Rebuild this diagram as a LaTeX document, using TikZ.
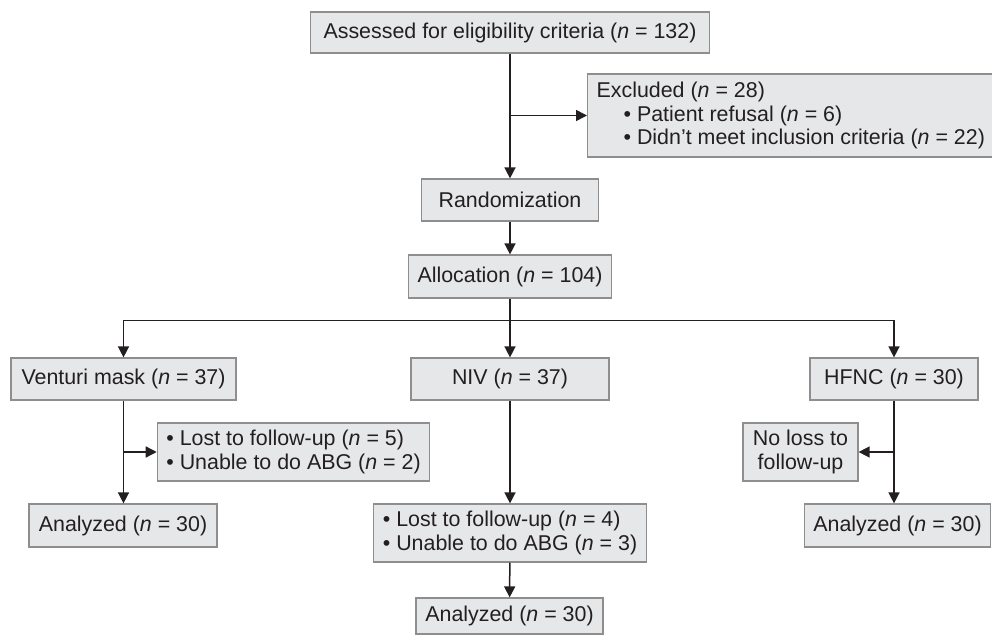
\documentclass[tikz,border=0pt]{standalone}
\usepackage{fontspec}
\setmainfont{Liberation Sans}
\usetikzlibrary{arrows.meta, positioning, calc}

\definecolor{boxfill}{HTML}{E6E7E8}
\definecolor{boxline}{HTML}{8E8E8E}
\definecolor{ink}{HTML}{231F20}
\newcommand{\nn}{\textit{n}}

\begin{document}
\begin{tikzpicture}[
        x=1pt, y=1pt,
        % styles
        >={Triangle[length=11pt, width=11pt]},
        box/.style={
            draw=boxline, fill=boxfill, line width=1.2pt,
            inner xsep=9pt, inner ysep=4pt, text=ink,
            font=\fontsize{21.4}{23.5}\selectfont
        },
        arrow/.style={->, line width=1.5pt, color=ink}
    ]
    \useasboundingbox (0,0) rectangle (992,635);

    % 1. screening
    \node (assess) [box, minimum width=399pt, minimum height=41pt] at (510,602.5)
        {Assessed for eligibility criteria (\nn{} = 132)};
    \node (excl) [box, anchor=west, align=left, minimum height=83pt] at (587,519.5)
        {Excluded (\nn{} = 28)\\
         \hspace*{27pt}\textbullet\ Patient refusal (\nn{} = 6)\\
         \hspace*{27pt}\textbullet\ Didn’t meet inclusion criteria (\nn{} = 22)};
    \node (rand) [box, minimum width=177pt, minimum height=42pt] at (510,435) {Randomization};
    \node (alloc) [box, minimum width=198pt, minimum height=43pt] at (510,358.5)
        {Allocation (\nn{} = 104)};

    % 2. the three arms
    \node (venturi) [box, minimum width=225pt, minimum height=42pt] at (123.5,256)
        {Venturi mask (\nn{} = 37)};
    \node (niv) [box, minimum width=198pt, minimum height=42pt] at (510,256)
        {NIV (\nn{} = 37)};
    \node (hfnc) [box, minimum width=168pt, minimum height=42pt] at (894,256)
        {HFNC (\nn{} = 30)};

    % 3. losses and analysis
    \node (vloss) [box, align=left, minimum width=269pt, minimum height=58pt] at (293.5,183)
        {\textbullet\ Lost to follow-up (\nn{} = 5)\\
         \textbullet\ Unable to do ABG (\nn{} = 2)};
    \node (vana) [box, minimum width=188pt, minimum height=43pt] at (123,109.5)
        {Analyzed (\nn{} = 30)};
    \node (nloss) [box, align=left, minimum width=268pt, minimum height=58pt] at (510,102)
        {\textbullet\ Lost to follow-up (\nn{} = 4)\\
         \textbullet\ Unable to do ABG (\nn{} = 3)};
    \node (nana) [box, minimum width=187pt, minimum height=36pt] at (509.5,19)
        {Analyzed (\nn{} = 30)};
    \node (hloss) [box, align=center, minimum width=115pt, minimum height=58pt] at (800.5,183)
        {No loss to\\follow-up};
    \node (hana) [box, minimum width=181pt, minimum height=43pt] at (897.5,109.5)
        {Analyzed (\nn{} = 30)};

    % 4. connectors
    \draw[arrow] (assess) -- (rand);
    \draw[arrow] (assess.south |- excl.west) -- (excl.west);
    \draw[arrow] (rand) -- (alloc);
    \coordinate (split) at ($(alloc.south)+(0,-22)$);
    \draw[arrow] (alloc) -- (niv);
    \draw[arrow] (split) -| (venturi.north);
    \draw[arrow] (split) -| (hfnc.north);

    \draw[arrow] (venturi.south) -- (venturi.south |- vana.north);
    \draw[arrow] (venturi.south |- vloss.west) -- (vloss.west);
    \draw[arrow] (niv) -- (nloss);
    \draw[arrow] (nloss) -- (nana);
    \draw[arrow] (hfnc.south) -- (hfnc.south |- hana.north);
    \draw[arrow] (hfnc.south |- hloss.east) -- (hloss.east);
\end{tikzpicture}
\end{document}
